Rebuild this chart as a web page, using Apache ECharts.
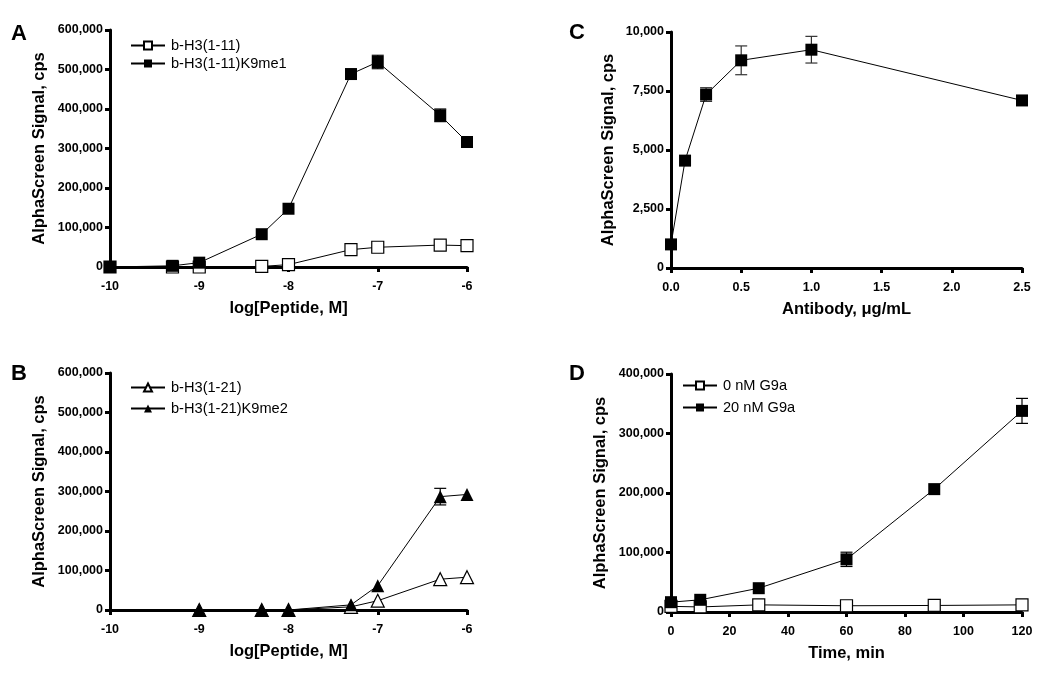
<!DOCTYPE html>
<html>
<head>
<meta charset="utf-8">
<script src="https://cdn.jsdelivr.net/npm/echarts@6/dist/echarts.min.js"></script>
<style>
html,body{margin:0;padding:0;background:#fff;}
#chart{width:1050px;height:680px;}
</style>
</head>
<body>
<div id="chart"></div>
<script>
// ---------- Data ----------
// Panel A
const xA = [-10, -9.3, -9, -8.3, -8, -7.3, -7, -6.3, -6];
const aOpen = [0, 0, 0, 1500, 6000, 44000, 50000, 55500, 54000];
const aFilled = [0, 3000, 11000, 83000, 147500, 488500, 519000, 384000, 316500];
const aFilledErr = [0, 0, 0, 0, 0, 0, 17000, 16000, 11000];
// Panel B
const xB = [-9, -8.3, -8, -7.3, -7, -6.3, -6];
const bOpen = [0, 0, 0, 8000, 23500, 78000, 83000];
const bFilled = [0, 0, 0, 13000, 61500, 287000, 292500];
const bFilledErr = [0, 0, 0, 0, 0, 21000, 0];
// Panel C
const xC = [0, 0.1, 0.25, 0.5, 1.0, 2.5];
const cVals = [1000, 4550, 7350, 8800, 9250, 7100];
const cErr = [0, 0, 290, 610, 565, 0];
// Panel D
const xD = [0, 10, 30, 60, 90, 120];
const dOpen = [9500, 8500, 12000, 10500, 11000, 12000];
const dFilled = [16500, 20500, 40000, 88500, 206500, 338000];
const dFilledErr = [0, 0, 0, 12000, 0, 21000];

const namesA = ['b-H3(1-11)', 'b-H3(1-11)K9me1'];
const namesB = ['b-H3(1-21)', 'b-H3(1-21)K9me2'];
const namesD = ['0 nM G9a', '20 nM G9a'];
const yTitle = 'AlphaScreen Signal, cps';
const xTitles = ['log[Peptide, M]', 'log[Peptide, M]', 'Antibody, \u03bcg/mL', 'Time, min'];
const panelLetters = ['A', 'B', 'C', 'D'];

// ---------- Helpers ----------
const FONT = 'Liberation Sans, Arial, Helvetica, sans-serif';
const comma = v => String(Math.round(v)).replace(/\B(?=(\d{3})+(?!\d))/g, ',');
const pairs = (xs, ys) => xs.map((x, i) => [x, ys[i]]);
const errData = (xs, ys, es) => xs.map((x, i) => es[i] ? [x, ys[i] - es[i], ys[i] + es[i]] : null).filter(d => d);

function xAxisCfg(idx, min, max, interval, fmt) {
  return {
    type: 'value', gridIndex: idx, min: min, max: max, interval: interval,
    name: xTitles[idx], nameLocation: 'middle', nameGap: 33,
    nameTextStyle: {fontFamily: FONT, fontWeight: 'bold', fontSize: 16.5, color: '#000'},
    axisLine: {onZero: false, lineStyle: {color: '#000', width: 3}},
    axisTick: {length: 5, lineStyle: {color: '#000', width: 3}},
    axisLabel: {fontFamily: FONT, fontWeight: 'bold', fontSize: 12.5, color: '#000', margin: 13, formatter: fmt},
    splitLine: {show: false}
  };
}
function yAxisCfg(idx, max, interval, gap) {
  return {
    type: 'value', gridIndex: idx, min: 0, max: max, interval: interval,
    name: yTitle, nameLocation: 'middle', nameGap: gap, nameRotate: 90,
    nameTextStyle: {fontFamily: FONT, fontWeight: 'bold', fontSize: 16.5, color: '#000'},
    axisLine: {onZero: false, lineStyle: {color: '#000', width: 3}},
    axisTick: {length: 5, lineStyle: {color: '#000', width: 3}},
    axisLabel: {fontFamily: FONT, fontWeight: 'bold', fontSize: 12.5, color: '#000', margin: 7, formatter: comma},
    splitLine: {show: false}
  };
}
function lineSeries(name, idx, data, symbol, filled, size) {
  return {
    type: 'line', name: name, xAxisIndex: idx, yAxisIndex: idx, data: data,
    symbol: symbol, symbolSize: size || 12, showSymbol: true, clip: false, z: 3,
    lineStyle: {color: '#000', width: 1},
    itemStyle: {color: filled ? '#000' : '#fff', borderColor: '#000', borderWidth: filled ? 0 : 1.2, opacity: 1},
    emphasis: {disabled: true}, animation: false
  };
}
function errSeries(idx, data, color) {
  return {
    type: 'custom', xAxisIndex: idx, yAxisIndex: idx, data: data, z: 2, clip: false, animation: false,
    encode: {x: 0, y: [1, 2]},
    renderItem: function (params, api) {
      const x = api.value(0);
      const p1 = api.coord([x, api.value(1)]);
      const p2 = api.coord([x, api.value(2)]);
      const w = 6;
      const st = {stroke: color || '#000', lineWidth: 1.2};
      return {type: 'group', children: [
        {type: 'line', shape: {x1: p1[0], y1: p1[1], x2: p2[0], y2: p2[1]}, style: st},
        {type: 'line', shape: {x1: p1[0] - w, y1: p1[1], x2: p1[0] + w, y2: p1[1]}, style: st},
        {type: 'line', shape: {x1: p2[0] - w, y1: p2[1], x2: p2[0] + w, y2: p2[1]}, style: st}
      ]};
    }
  };
}
function legendCfg(names, left, top, gap) {
  return {
    data: names, orient: 'vertical', left: left, top: top, padding: 0, itemGap: gap,
    itemWidth: 34, itemHeight: 10, selectedMode: false,
    textStyle: {fontFamily: FONT, fontSize: 14.6, color: '#000', padding: [0, 0, 0, 1]}
  };
}

const chart = echarts.init(document.getElementById('chart'), null, {renderer: 'canvas'});
const option = {
  backgroundColor: '#fff',
  animation: false,
  grid: [
    {left: 110, top: 30, width: 357, height: 237},
    {left: 110, top: 373, width: 357, height: 237},
    {left: 671, top: 32, width: 351, height: 236},
    {left: 671, top: 374, width: 351, height: 238}
  ],
  xAxis: [
    xAxisCfg(0, -10, -6, 1, v => String(v)),
    xAxisCfg(1, -10, -6, 1, v => String(v)),
    xAxisCfg(2, 0, 2.5, 0.5, v => v.toFixed(1)),
    xAxisCfg(3, 0, 120, 20, v => String(v))
  ],
  yAxis: [
    yAxisCfg(0, 600000, 100000, 62),
    yAxisCfg(1, 600000, 100000, 62),
    yAxisCfg(2, 10000, 2500, 54),
    yAxisCfg(3, 400000, 100000, 62)
  ],
  legend: [
    legendCfg(namesA, 130, 38, 3),
    legendCfg(namesB, 130, 380, 6),
    legendCfg(namesD, 682, 378, 7)
  ],
  graphic: [
    {type: 'text', left: 11, top: 23, style: {text: panelLetters[0], font: 'bold 22px ' + FONT, fill: '#000'}},
    {type: 'text', left: 11, top: 363, style: {text: panelLetters[1], font: 'bold 22px ' + FONT, fill: '#000'}},
    {type: 'text', left: 569, top: 22, style: {text: panelLetters[2], font: 'bold 22px ' + FONT, fill: '#000'}},
    {type: 'text', left: 569, top: 363, style: {text: panelLetters[3], font: 'bold 22px ' + FONT, fill: '#000'}}
  ],
  series: [
    lineSeries(namesA[0], 0, pairs(xA, aOpen), 'rect', false),
    lineSeries(namesA[1], 0, pairs(xA, aFilled), 'rect', true),
    errSeries(0, errData(xA, aFilled, aFilledErr)),
    lineSeries(namesB[0], 1, pairs(xB, bOpen), 'triangle', false, 13),
    lineSeries(namesB[1], 1, pairs(xB, bFilled), 'triangle', true, 13),
    errSeries(1, errData(xB, bFilled, bFilledErr)),
    lineSeries('Antibody', 2, pairs(xC, cVals), 'rect', true),
    errSeries(2, errData(xC, cVals, cErr), '#333'),
    lineSeries(namesD[0], 3, pairs(xD, dOpen), 'rect', false),
    lineSeries(namesD[1], 3, pairs(xD, dFilled), 'rect', true),
    errSeries(3, errData(xD, dFilled, dFilledErr))
  ]
};
chart.setOption(option);
</script>
</body>
</html>
